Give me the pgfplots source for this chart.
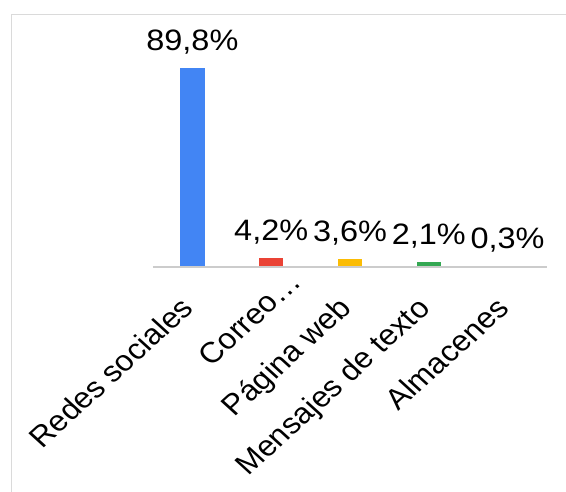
\documentclass[border=0pt]{standalone}
\usepackage{pgfplots}
\pgfplotsset{compat=1.18}
\usepackage{fontspec}
\setmainfont{Liberation Sans}
\definecolor{gblue}{HTML}{4285F4}
\definecolor{gred}{HTML}{EA4335}
\definecolor{gyellow}{HTML}{FBBC04}
\definecolor{ggreen}{HTML}{34A853}
\definecolor{gteal}{HTML}{46BDC6}
\definecolor{framegray}{HTML}{DADADA}
\definecolor{axisgray}{HTML}{CCCCCC}

\begin{document}
\begin{tikzpicture}
\useasboundingbox (0,0) rectangle (566pt,492pt);
\fill[white] (0,0) rectangle (566pt,492pt);
% card border (top and left edges)
\draw[framegray, line width=1.6pt] (11.5pt,0pt) -- (11.5pt,477.5pt) -- (566pt,477.5pt);
\begin{axis}[
  at={(153pt,225pt)}, anchor=south west,
  scale only axis, width=394pt, height=221.6pt,
  xmin=-0.5, xmax=4.5, ymin=0, ymax=100,
  axis y line=none, axis x line*=bottom, axis on top,
  x axis line style={axisgray, line width=1.3pt, -},
  xtick={0,...,4}, major tick length=0pt,
  xticklabels={Redes sociales, Correo…\hspace*{-37pt}, Página web, Mensajes de texto, Almacenes},
  xticklabel style={font=\fontsize{29}{34}\selectfont, inner sep=0pt,
    anchor=base east, xshift=3pt, yshift=-43pt, xscale=1.1, rotate=45},
  ybar, bar width=24.5pt, bar shift=0pt,
  point meta=explicit symbolic,
  nodes near coords,
  every node near coord/.style={font=\fontsize{29.5}{34}\selectfont,
    anchor=base, inner sep=0pt, yshift=17.5pt, xscale=1.1, text=black},
  clip=false,
]
\addplot[fill=gblue, draw=none] coordinates {(0,89.8) [89,8\%]};
\addplot[fill=gred, draw=none] coordinates {(1,4.2) [4,2\%]};
\addplot[fill=gyellow, draw=none] coordinates {(2,3.6) [3,6\%]};
\addplot[fill=ggreen, draw=none] coordinates {(3,2.1) [2,1\%]};
\addplot[fill=gteal, draw=none] coordinates {(4,0.3) [0,3\%]};
\end{axis}
\end{tikzpicture}
\end{document}
